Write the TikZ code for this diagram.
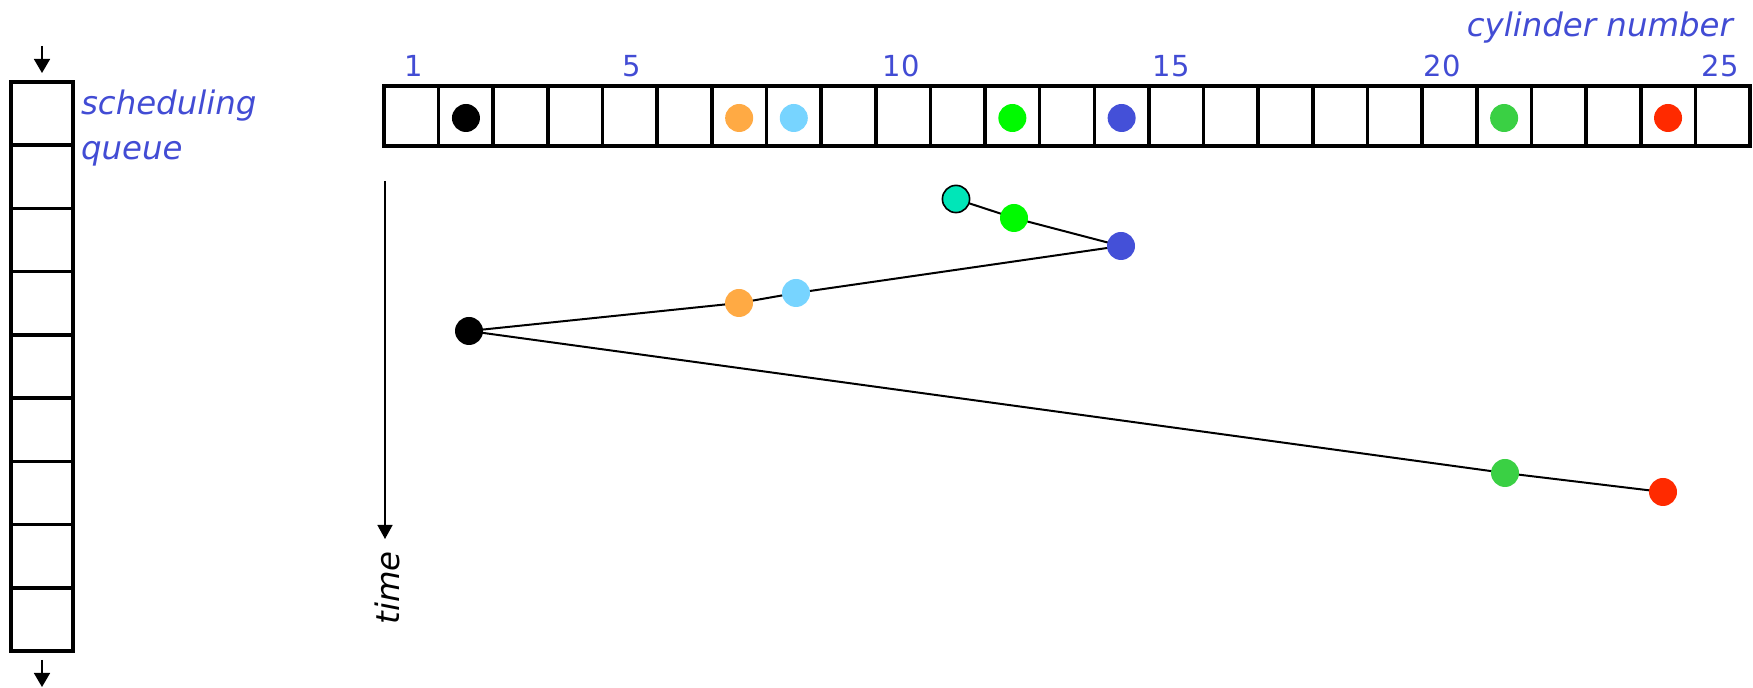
\documentclass[tikz,border=0pt]{standalone}
\usepackage{fontspec}
\setmainfont{DejaVu Sans}
\usetikzlibrary{arrows.meta,backgrounds}
\definecolor{lblblue}{RGB}{66,76,212}
\definecolor{dotorange}{RGB}{255,170,68}
\definecolor{dotlight}{RGB}{119,212,255}
\definecolor{dotgreen}{RGB}{0,250,0}
\definecolor{dotblue}{RGB}{68,80,216}
\definecolor{dotgreentwo}{RGB}{58,208,68}
\definecolor{dotred}{RGB}{255,42,0}
\definecolor{dotteal}{RGB}{0,230,184}
\tikzset{
  cell/.style={draw=black, line width=1.8pt, minimum width=27.32pt, minimum height=30pt, inner sep=0pt, outer sep=0pt},
  qcell/.style={draw=black, line width=1.8pt, minimum width=31pt, minimum height=31.6pt, inner sep=0pt, outer sep=0pt},
  dot/.style={circle, inner sep=0pt, minimum size=14pt},
  lbl/.style={text=lblblue, font=\fontsize{16.2}{19}\selectfont\itshape},
  num/.style={text=lblblue, font=\fontsize{14.5}{17}\selectfont, anchor=base},
  track/.style={line width=1pt, black},
  arr/.style={line width=0.8pt, -{Triangle[length=7pt,width=8pt]}}
}
\begin{document}
\begin{tikzpicture}[x=0.5pt,y=-0.5pt]
\useasboundingbox (0,0) rectangle (1753,688);
% scheduling queue
\foreach \i in {1,...,9} {
  \node[qcell] (q\i) at (42,{82+(\i-0.5)*63.22}) {};
}
\coordinate (qin) at (42,46);
\coordinate (qintip) at (42,73);
\coordinate (qout) at (42,660);
\coordinate (qouttip) at (42,687);
\draw[arr] (qin) -- (qintip);
\draw[arr] (qout) -- (qouttip);
\node[lbl, anchor=base west] (schedA) at (74,115) {scheduling};
\node[lbl, anchor=base west] (schedB) at (74,160) {queue};
% cylinder bar
\foreach \i in {1,...,25} {
  \node[cell] (c\i) at ({384+(\i-0.5)*54.64},116) {};
}
\foreach \n/\x in {1/414,5/632,10/901,15/1171,20/1442,25/1720} {
  \node[num] (n\n) at (\x,77) {\n};
}
\node[lbl, anchor=base east] (cyl) at (1740,37) {cylinder number};
% dots in bar
\node[dot, fill=black] (b2) at ([yshift=-1pt]c2.center) {};
\node[dot, fill=dotorange] (b7) at ([yshift=-1pt]c7.center) {};
\node[dot, fill=dotlight] (b8) at ([yshift=-1pt]c8.center) {};
\node[dot, fill=dotgreen] (b12) at ([yshift=-1pt]c12.center) {};
\node[dot, fill=dotblue] (b14) at ([yshift=-1pt]c14.center) {};
\node[dot, fill=dotgreentwo] (b21) at ([yshift=-1pt]c21.center) {};
\node[dot, fill=dotred] (b24) at ([yshift=-1pt]c24.center) {};
% time axis
\coordinate (t0) at (385,181);
\coordinate (t1) at (385,539);
\draw[line width=0.75pt, -{Triangle[length=7pt,width=7.5pt]}] (t0) -- (t1);
\node[lbl, text=black, rotate=90, anchor=base] (timelbl) at (399,588) {time};
% trajectory
\node[dot, fill=dotteal, draw=black, line width=0.8pt, minimum size=13.6pt] (pteal) at (956,199) {};
\node[dot, fill=dotgreen] (pgreen) at (1014,218) {};
\node[dot, fill=dotblue] (pblue) at (1121,246) {};
\node[dot, fill=dotlight] (plight) at (796,293) {};
\node[dot, fill=dotorange] (porange) at (739,303) {};
\node[dot, fill=black] (pblack) at (469,331) {};
\node[dot, fill=dotgreentwo] (pgreentwo) at (1505,473) {};
\node[dot, fill=dotred] (pred) at (1663,492) {};
\begin{scope}[on background layer]
\draw[track] (pteal.center) -- (pgreen.center) -- (pblue.center) -- (plight.center) -- (porange.center) -- (pblack.center) -- (pgreentwo.center) -- (pred.center);
\end{scope}
\end{tikzpicture}
\end{document}
